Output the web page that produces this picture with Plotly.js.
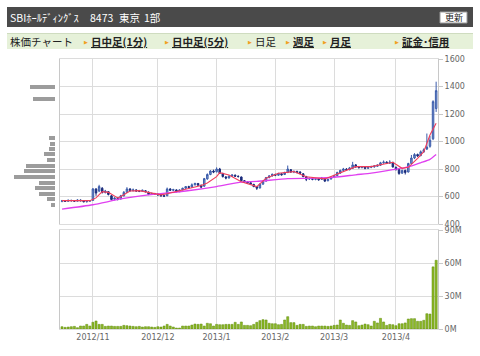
<!DOCTYPE html>
<html><head><meta charset="utf-8">
<script src="https://cdn.plot.ly/plotly-3.0.1.min.js"></script>
<style>html,body{margin:0;padding:0;background:#fff;}#c{width:480px;height:356px;}</style>
</head><body><div id="c"></div>
<script>
// ---- data ----
const dates = [
 '2012-10-18','2012-10-19','2012-10-22','2012-10-23','2012-10-24','2012-10-25','2012-10-26','2012-10-29','2012-10-30','2012-10-31',
 '2012-11-01','2012-11-02','2012-11-05','2012-11-06','2012-11-07','2012-11-08','2012-11-09','2012-11-12','2012-11-13','2012-11-14','2012-11-15','2012-11-16','2012-11-19','2012-11-20','2012-11-21','2012-11-22','2012-11-26','2012-11-27','2012-11-28','2012-11-29','2012-11-30',
 '2012-12-03','2012-12-04','2012-12-05','2012-12-06','2012-12-07','2012-12-10','2012-12-11','2012-12-12','2012-12-13','2012-12-14','2012-12-17','2012-12-18','2012-12-19','2012-12-20','2012-12-21','2012-12-25','2012-12-26','2012-12-27','2012-12-28',
 '2013-01-04','2013-01-07','2013-01-08','2013-01-09','2013-01-10','2013-01-11','2013-01-15','2013-01-16','2013-01-17','2013-01-18','2013-01-21','2013-01-22','2013-01-23','2013-01-24','2013-01-25','2013-01-28','2013-01-29','2013-01-30','2013-01-31',
 '2013-02-01','2013-02-04','2013-02-05','2013-02-06','2013-02-07','2013-02-08','2013-02-12','2013-02-13','2013-02-14','2013-02-15','2013-02-18','2013-02-19','2013-02-20','2013-02-21','2013-02-22','2013-02-25','2013-02-26','2013-02-27','2013-02-28',
 '2013-03-01','2013-03-04','2013-03-05','2013-03-06','2013-03-07','2013-03-08','2013-03-11','2013-03-12','2013-03-13','2013-03-14','2013-03-15','2013-03-18','2013-03-19','2013-03-21','2013-03-22','2013-03-25','2013-03-26','2013-03-27','2013-03-28','2013-03-29',
 '2013-04-01','2013-04-02','2013-04-03','2013-04-04','2013-04-05','2013-04-08','2013-04-09','2013-04-10','2013-04-11','2013-04-12','2013-04-15','2013-04-16','2013-04-17','2013-04-18'
];
const open  = [565,568,565,572,570,566,574,569,562,566, 572,655,640,660,630,635,605,580,585,582,605,630,655,642,648,640,638,642,632,615,622,
 618,612,605,605,655,645,648,635,648,660,672,668,685,695,682,675,728,760,785,
 780,800,768,742,735,748,755,748,742,715,705,700,688,672,662,690,712,738,750,
 760,755,765,760,775,795,778,782,778,765,745,728,730,725,728,725,730,715,728,
 740,752,770,790,800,795,805,830,815,810,815,805,812,815,820,828,845,850,842,848,
 812,795,770,790,778,840,880,905,898,925,945,965,1020,1240];
const high  = [575,574,578,576,574,580,578,572,570,574, 662,660,685,668,648,640,610,595,595,612,640,668,660,658,652,648,650,646,636,628,626,
 622,616,610,665,660,656,652,652,664,676,678,695,700,698,686,735,768,792,795,
 812,808,772,748,752,762,760,752,745,720,712,706,692,676,695,716,742,756,766,
 766,772,770,780,825,800,790,788,784,770,750,738,736,735,732,742,734,730,745,
 758,780,795,808,806,815,852,836,822,822,820,818,824,828,834,852,862,856,864,852,
 818,800,795,795,845,902,915,912,935,950,1058,1040,1300,1435];
const low   = [558,560,562,563,560,564,565,558,556,562, 568,605,632,622,622,608,572,572,572,578,600,628,635,638,634,632,634,630,610,612,612,
 606,600,596,603,640,640,630,632,645,656,660,664,680,678,660,672,722,755,770,
 775,765,738,725,730,742,742,738,712,700,692,685,668,648,658,686,708,732,745,
 748,750,752,756,770,772,770,768,762,740,712,720,718,718,715,720,705,710,722,
 735,748,765,784,788,790,800,810,804,805,798,800,806,810,815,822,838,836,838,810,
 790,758,765,760,775,835,872,888,892,918,938,955,1010,1215];
const close = [568,565,572,570,566,574,569,562,566,570, 655,625,672,630,640,615,578,588,578,605,630,655,642,648,640,638,645,635,615,622,618,
 612,605,603,655,645,650,635,648,660,672,665,685,695,682,668,730,760,785,778,
 800,770,745,735,748,756,748,745,715,705,698,690,672,660,690,712,738,750,762,
 755,768,758,775,800,778,782,775,770,745,725,730,725,728,722,735,712,725,740,
 752,775,790,800,795,808,830,815,810,815,805,812,818,822,828,845,850,842,850,815,
 795,768,790,775,840,880,905,895,925,940,960,1010,1290,1370];
const volumeM = [2.1,1.5,1.8,2.1,2.4,1.2,2.7,2.7,4.2,2.7, 6.1,7.3,4.2,4.2,2.4,2.7,2.7,2.4,2.4,2.4,3.3,3.0,2.7,2.4,2.1,2.4,1.8,2.1,2.1,1.8,1.5,
 2.1,1.8,2.7,4.2,2.7,1.8,0.9,0.9,2.7,2.7,2.7,3.6,4.5,4.2,4.5,2.7,5.2,4.8,2.7,
 4.2,3.9,3.9,4.2,4.2,4.2,6.1,4.2,6.4,3.3,3.3,3.0,4.2,6.1,7.6,8.5,8.2,5.2,4.8,
 4.8,3.9,4.2,8.2,11.2,5.8,5.8,3.3,4.2,4.2,2.4,2.7,2.7,2.1,2.7,2.7,2.7,2.4,2.7,
 3.3,3.6,8.2,5.2,3.6,3.3,7.6,6.4,3.0,3.6,4.5,3.9,2.7,7.0,5.5,9.7,6.4,3.3,4.2,3.9,
 3.0,4.8,4.8,5.5,9.1,9.4,9.4,7.0,7.0,7.9,13.9,13.6,56.5,62.5];
// moving averages (index into dates, value)
const maShortIdx = [0,9,11,13,15,18,19,22,25,28,32,34,38,41,45,47,50,51,54,58,63,66,70,75,79,85,91,95,100,107,110,112,115,117,119,121];
const maShort    = [570,570,590,635,630,590,600,640,643,628,612,620,640,660,680,698,744,773,757,708,672,733,769,781,744,728,781,817,817,849,805,812,878,926,1047,1132];
const maLongIdx  = [0,10,19,28,40,50,58,63,73,82,88,95,100,107,112,116,119,121];
const maLong     = [508,540,582,612,640,672,705,710,730,733,740,758,770,795,815,845,870,905];
// volume-by-price histogram
const histPrice = [538,580,621,662,700,742,783,824,863,907,945,984,1028,1309,1394];
const histVolM  = [11,20,38,49,40,100,76,72,19,27,15,13,14,55,62];
// axis ticks
const monthStarts = ['2012-11-01','2012-12-03','2013-01-04','2013-02-01','2013-03-01','2013-04-01'];
const monthLabels = ['2012/11','2012/12','2013/1','2013/2','2013/3','2013/4'];
const priceTicks = [400,600,800,1000,1200,1400,1600];
const volTicks = [0,30,60,90];
const volTickText = ['0M','30M','60M','90M'];

// ---- helpers (page pixels -> paper) ----
const W = 480, H = 356;
const px = x => x / W, py = y => 1 - y / H;
const GRID = '#dcdcdc', TICKF = {family:'DejaVu Sans', size:8, color:'#666'};
const JP = 'Noto Sans CJK JP';

const traces = [
 {type:'candlestick', x:dates, open:open, high:high, low:low, close:close, xaxis:'x', yaxis:'y',
  increasing:{line:{color:'#3b5cab', width:1}, fillcolor:'#8199cc'},
  decreasing:{line:{color:'#1b2c7c', width:1}, fillcolor:'#1b2c7c'},
  whiskerwidth:0, hoverinfo:'skip'},
 {type:'scatter', mode:'lines', x:maLongIdx.map(i=>dates[i]), y:maLong, xaxis:'x', yaxis:'y',
  line:{color:'#e040f0', width:1.3, shape:'spline', smoothing:0.6}, hoverinfo:'skip'},
 {type:'scatter', mode:'lines', x:maShortIdx.map(i=>dates[i]), y:maShort, xaxis:'x', yaxis:'y',
  line:{color:'#f03c5a', width:1.1}, hoverinfo:'skip'},
 {type:'bar', x:dates, y:volumeM, xaxis:'x2', yaxis:'y2', marker:{color:'#8cb826', line:{color:'#5f8a0a', width:0.5}},
  width:0.68, hoverinfo:'skip'},
 {type:'bar', orientation:'h', x:histVolM, y:histPrice, xaxis:'x3', yaxis:'y3', width:29,
  marker:{color:'#9c9c9c', line:{width:0}}, hoverinfo:'skip'}
];

const catAxis = {type:'category', categoryorder:'array', categoryarray:dates, range:[-0.65,121.6],
  tickvals:monthStarts, ticktext:monthLabels, showgrid:true, gridcolor:GRID, gridwidth:1,
  showline:true, mirror:true, linecolor:GRID, ticks:'', zeroline:false, fixedrange:true,
  domain:[px(60), px(438)], tickfont:TICKF};

const layout = {
 width:W, height:H, margin:{l:0,r:0,t:0,b:0}, paper_bgcolor:'#fff', plot_bgcolor:'rgba(0,0,0,0)',
 showlegend:false, bargap:0,
 xaxis:Object.assign({}, catAxis, {anchor:'y', showticklabels:false, rangeslider:{visible:false}}),
 yaxis:{domain:[py(224), py(59)], anchor:'x', side:'right', range:[400,1600], tickvals:priceTicks,
  showgrid:true, gridcolor:GRID, gridwidth:1, showline:true, mirror:true, linecolor:'#c8c8c8',
  ticks:'outside', ticklen:4, tickcolor:'#c8c8c8', tickfont:TICKF, zeroline:false, fixedrange:true},
 xaxis2:Object.assign({}, catAxis, {anchor:'y2', showticklabels:true}),
 yaxis2:{domain:[py(329), py(230)], anchor:'x2', side:'right', range:[0,90], tickvals:volTicks, ticktext:volTickText,
  showgrid:true, gridcolor:GRID, gridwidth:1, showline:true, mirror:true, linecolor:'#c8c8c8',
  ticks:'outside', ticklen:4, tickcolor:'#c8c8c8', tickfont:TICKF, zeroline:false, fixedrange:true},
 xaxis3:{domain:[0, px(55)], anchor:'y3', range:[134.75,0], visible:false, fixedrange:true},
 yaxis3:{domain:[py(224), py(59)], anchor:'x3', range:[400,1600], visible:false, fixedrange:true},
 shapes:[
  {type:'rect', xref:'paper', yref:'paper', x0:px(7), x1:px(473), y0:py(27), y1:py(7), fillcolor:'#4a4a4a', line:{width:0}, layer:'below'},
  {type:'rect', xref:'paper', yref:'paper', x0:px(440), x1:px(467), y0:py(23), y1:py(12), fillcolor:'#ffffff', line:{color:'#999', width:1}},
  {type:'rect', xref:'paper', yref:'paper', x0:px(7), x1:px(473), y0:py(49), y1:py(33), fillcolor:'#e6f1d9', line:{width:0}, layer:'below'},
  {type:'line', xref:'paper', yref:'paper', x0:px(7), x1:px(473), y0:py(33.5), y1:py(33.5), line:{color:'#cfdcc0', width:1}}
 ],
 annotations:[]
};

function txt(t, x, y, opts){
  return Object.assign({text:t, xref:'paper', yref:'paper', x:px(x), y:py(y), xanchor:'left', yanchor:'middle',
    showarrow:false, font:{family:JP, size:10.5, color:'#222'}}, opts||{});
}
const A = layout.annotations;
const HF = {family:JP, size:10.5, color:'#fff'};
A.push(txt('SBIﾎｰﾙﾃﾞｨﾝｸﾞｽ', 8, 17.5, {font:HF}));
A.push(txt('8473', 88, 17.5, {font:HF}));
A.push(txt('東京', 117, 17.5, {font:HF}));
A.push(txt('1部', 142, 17.5, {font:HF}));
A.push(txt('更新', 453.5, 17.5, {xanchor:'center', font:{family:JP, size:9, color:'#222'}}));
A.push(txt('株価チャート', 8, 42));
const nav = [['日中足(1分)',82,true],['日中足(5分)',163,true],['日足',246,false],['週足',284,true],['月足',321,true],['証金･信用',393,true]];
nav.forEach(n=>{
  A.push(txt('▶', n[1], 42, {font:{family:'DejaVu Sans', size:5, color:'#f0a020'}}));
  A.push(txt(n[0], n[1]+7, 42, {font:{family:JP, size:10.5, color:'#222', weight: n[2]?'bold':'normal', lineposition: n[2]?'under':'none'}}));
});

Plotly.newPlot('c', traces, layout, {staticPlot:true, displayModeBar:false});
</script></body></html>
